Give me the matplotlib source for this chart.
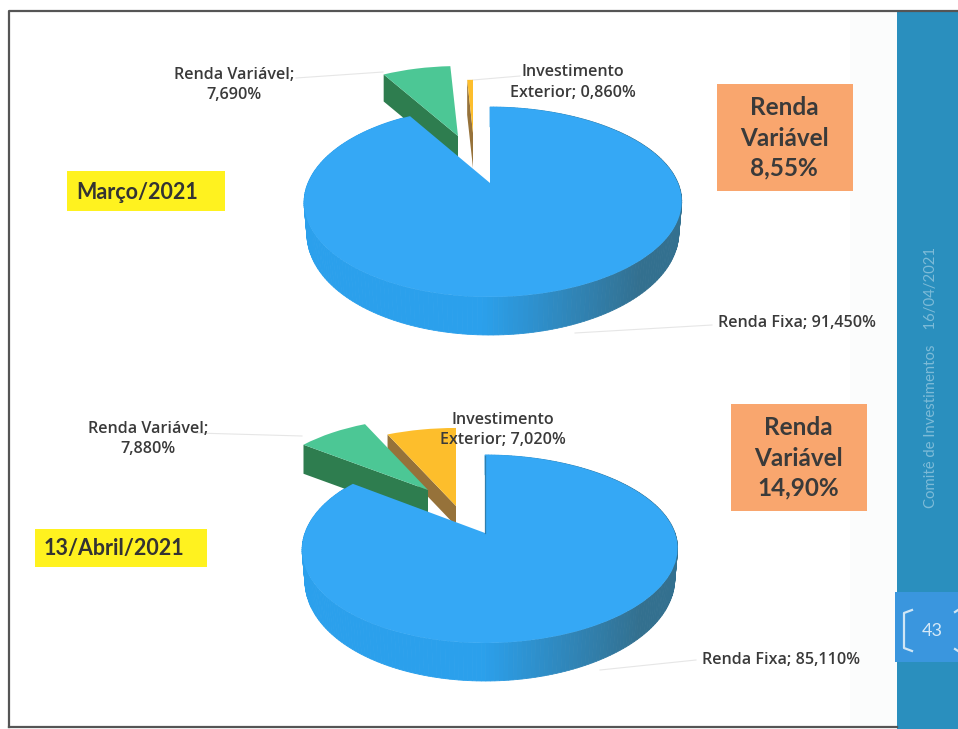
import numpy as np
import matplotlib
matplotlib.use('Agg')
from matplotlib import pyplot as plt
from matplotlib.patches import Rectangle
from matplotlib.transforms import Transform
from matplotlib.colors import to_rgb

plt.rcParams['font.family'] = ['Lato', 'DejaVu Sans']

# pie data, clockwise from 12 o'clock
slices = ['Renda Fixa', 'Renda Variável', 'Investimento Exterior']
marco_values = [91.45, 7.69, 0.86]
abril_values = [85.11, 7.88, 7.02]

periods = ['Março/2021', '13/Abril/2021']
rv_totals = ['8,55%', '14,90%']

marco_labels = ['Renda Fixa; 91,450%', 'Renda Variável;\n7,690%', 'Investimento\nExterior; 0,860%']
abril_labels = ['Renda Fixa; 85,110%', 'Renda Variável;\n7,880%', 'Investimento\nExterior; 7,020%']

BLUE = '#35A8F5'
GREEN = '#4CC795'
GREEN_SIDE = '#2E7D4F'
YELLOW = '#FDBE2C'
YELLOW_SIDE = '#96723A'


class Perspective(Transform):
    # unit disc -> pixels, so the pie lies flat like the 3d chart
    input_dims = 2
    output_dims = 2
    is_separable = False
    has_inverse = False

    def __init__(self, cx, cy, a, b, k, scale=1.0, bow=0.0):
        super().__init__()
        self.cx, self.cy, self.a, self.b, self.k = cx, cy, a, b, k
        self.scale, self.bow = scale, bow

    def transform_non_affine(self, xy):
        xy = np.asarray(xy, dtype=float)
        w = 1 + self.k * xy[:, 1]
        return np.column_stack([self.cx + self.scale * self.b * xy[:, 0] / w + self.bow * xy[:, 0] ** 2,
                                self.cy - self.scale * self.a * xy[:, 1] / w])


def main_side(ax, wedge, p, x_bright, x_dark):
    # outer wall of the big slice, cut in strips for the shading
    angles = np.radians(np.linspace(wedge.theta1, wedge.theta2, 260))
    pts = np.column_stack([np.cos(angles), np.sin(angles)])
    top = p.transform_non_affine(pts)
    bottom = top.copy()
    bottom[:, 0] = p.cx + p.bow + (top[:, 0] - p.cx - p.bow) * 0.985
    bottom[:, 1] = top[:, 1] + 29 - 9 * pts[:, 1]
    c1, c2 = np.array(to_rgb('#2BA0EC')), np.array(to_rgb('#33708F'))
    for i in range(len(angles) - 1):
        t = np.clip((top[i, 0] - x_bright) / (x_dark - x_bright), 0, 1)
        poly = np.vstack([top[i], top[i + 1], bottom[i + 1], bottom[i]])
        ax.fill(poly[:, 0], poly[:, 1], color=c1 + (c2 - c1) * t, lw=0.6, zorder=2)


def slice_side(ax, wedge, p, depth, color, zorder):
    # cut face of an exploded slice, left radial edge pushed down
    a = np.radians(wedge.theta2)
    edge = p.transform_non_affine(np.array([[np.cos(a), np.sin(a)], [0, 0]]))
    poly = np.vstack([edge[0], edge[1], edge[1] + [0, depth], edge[0] + [0, depth]])
    ax.fill(poly[:, 0], poly[:, 1], color=color, lw=0, zorder=zorder)


def draw_pie(ax, values, main_p, green_p, yellow_p, green_depth, yellow_depth, x_bright, x_dark):
    wedges, _ = ax.pie(values, startangle=90, counterclock=False, radius=1,
                       colors=[BLUE, GREEN, YELLOW], wedgeprops={'linewidth': 0})
    main, green, yellow = wedges
    main.set_transform(main_p + ax.transData)
    green.set_transform(green_p + ax.transData)
    yellow.set_transform(yellow_p + ax.transData)
    yellow.set_zorder(4)
    green.set_zorder(6)
    main.set_zorder(8)
    main_side(ax, main, main_p, x_bright, x_dark)
    slice_side(ax, yellow, yellow_p, yellow_depth, YELLOW_SIDE, 3)
    slice_side(ax, green, green_p, green_depth, GREEN_SIDE, 5)


fig = plt.figure(figsize=(9.58, 7.29), dpi=100)
ax = fig.add_axes([0, 0, 1, 1])

draw_pie(ax, marco_values,
         Perspective(490, 183, 91.2, 185, 0.2, bow=3),
         Perspective(458, 136, 91.2, 185, 0.2, 0.92),
         Perspective(473, 133, 91.2, 185, 0.2, 0.7),
         27, 35, 480, 640)
draw_pie(ax, abril_values,
         Perspective(485, 533, 91.3, 185, 0.17, bow=5),
         Perspective(428, 490, 91.3, 185, 0.17, 0.92),
         Perspective(456, 506, 91.3, 185, 0.17),
         29, 20, 480, 640)

ax.set_aspect('auto')
ax.set_xlim(0, 958)
ax.set_ylim(729, 0)
ax.axis('off')

# page frame and side panel
ax.add_patch(Rectangle((850, 11), 47, 716, color='#FBFCFC', lw=0, zorder=0))
ax.add_patch(Rectangle((897, 11), 61, 718, color='#2A8FBE', lw=0, zorder=1))
ax.add_patch(Rectangle((895, 592), 63, 70, color='#3A96DE', lw=0, zorder=1.5))
ax.plot([9, 9, 958], [727, 11, 11], color='#555555', lw=1.6, zorder=9)
ax.plot([9, 897], [727, 727], color='#555555', lw=1.6, zorder=9)
ax.plot([485, 485], [456, 533], color='#2F7FAE', lw=0.9, zorder=9)
ax.plot([912, 904, 904, 912], [610, 613, 648, 651], color='#CFE6F5', lw=1.6, zorder=9)
ax.plot([958, 955], [610, 612], color='#CFE6F5', lw=1.6, zorder=9)
ax.plot([955, 958], [649, 651], color='#CFE6F5', lw=1.6, zorder=9)
ax.text(932, 631, '43', color='#D5E9F7', fontsize=13, ha='center', va='center', zorder=10)
ax.text(931, 508, 'Comitê de Investimentos    16/04/2021', color='#7DBBD8', fontsize=10.7,
        rotation=90, ha='center', va='bottom', zorder=10)

# leader lines
for xs, ys in [([296, 383], [78, 72]), ([473, 520], [80, 76]), ([575, 712], [333, 325]),
               ([196, 302], [433, 436]), ([600, 696], [670, 660])]:
    ax.plot(xs, ys, color='#E6E6E6', lw=0.8, zorder=1)

# slice labels
label_color = '#3A3A3A'
label_font = dict(color=label_color, fontsize=11.6, family=['Open Sans', 'DejaVu Sans'], weight='semibold', zorder=10)
ax.text(718, 323, marco_labels[0], va='center', **label_font)
ax.text(234, 85, marco_labels[1], ha='center', va='center', linespacing=1.35, **label_font)
ax.text(573, 82.5, marco_labels[2], ha='center', va='center', linespacing=1.35, **label_font)
ax.text(702, 660, abril_labels[0], va='center', **label_font)
ax.text(148, 439, abril_labels[1], ha='center', va='center', linespacing=1.35, **label_font)
ax.text(503, 430, abril_labels[2], ha='center', va='center', linespacing=1.35, **label_font)

# period tags
ax.add_patch(Rectangle((67, 171), 158, 40, color='#FFF21F', lw=0, zorder=1))
ax.text(137.5, 192, periods[0], color='#333333', fontsize=15.5, weight='bold', ha='center', va='center', zorder=10)
ax.add_patch(Rectangle((35, 529), 172, 38, color='#FFF21F', lw=0, zorder=1))
ax.text(114, 549, periods[1], color='#333333', fontsize=15.5, weight='bold', ha='center', va='center', zorder=10)

# renda variavel totals
for x0, y0, total in [(717, 84, rv_totals[0]), (731, 404, rv_totals[1])]:
    ax.add_patch(Rectangle((x0, y0), 136, 107, color='#F9A66E', lw=0, zorder=1))
    ax.text(x0 + 67, y0 + 54, 'Renda\nVariável\n' + total, color='#3A3A3A', fontsize=17.5,
            weight='bold', ha='center', va='center', linespacing=1.38, zorder=10)

fig.savefig('out.png', dpi=100)
